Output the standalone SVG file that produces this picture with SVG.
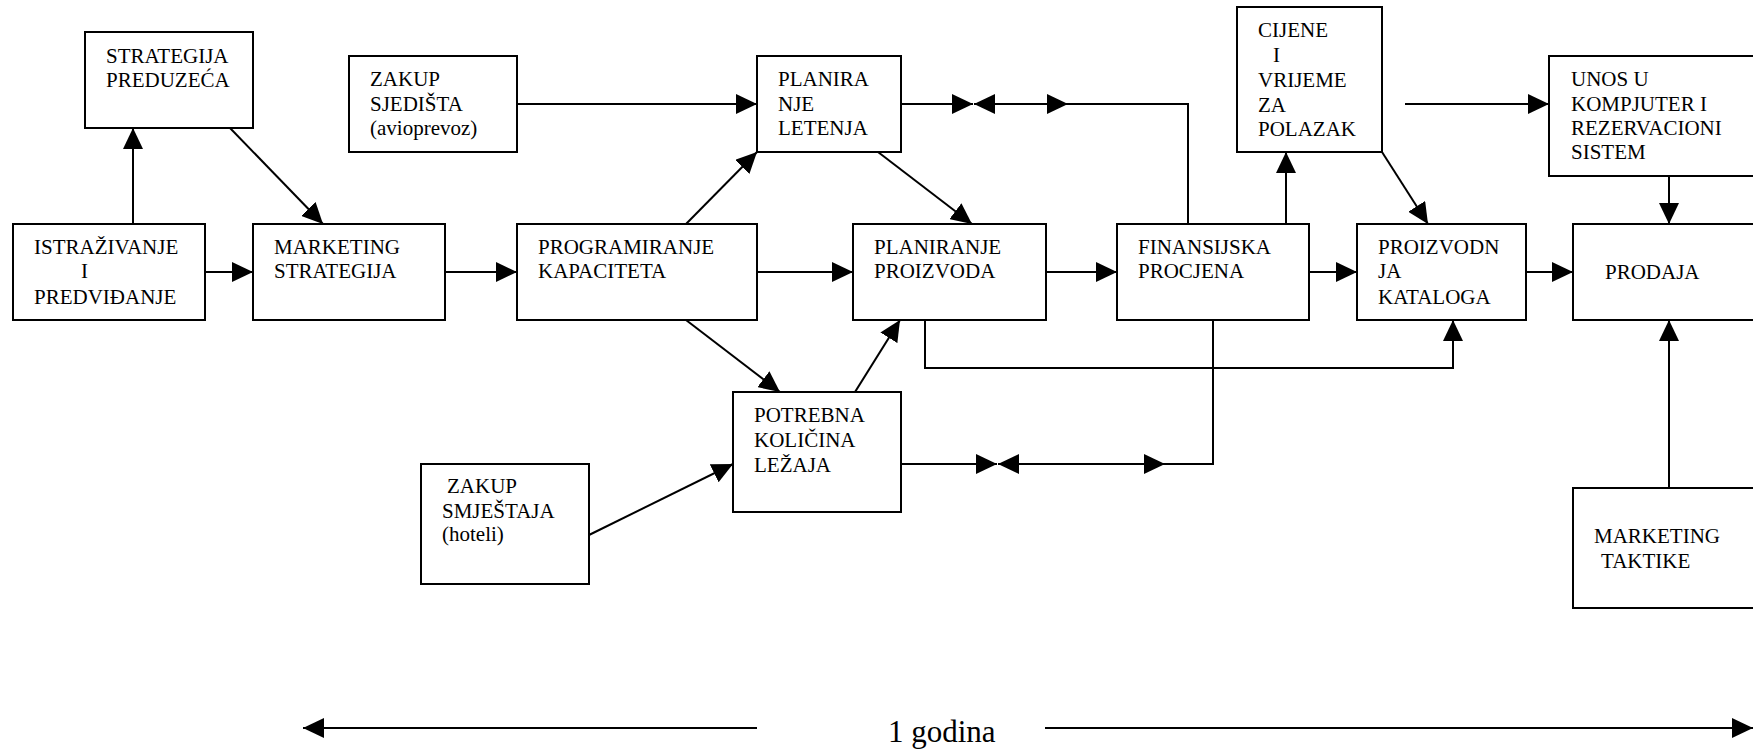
<svg xmlns="http://www.w3.org/2000/svg" width="1753" height="750" viewBox="0 0 1753 750">
  <style>
    .box { fill: #ffffff; stroke: #000000; stroke-width: 2; }
    .lbl { font-family: "Liberation Serif", "Times New Roman", serif; font-size: 21px; fill: #000000; }
    .big { font-family: "Liberation Serif", "Times New Roman", serif; font-size: 31px; fill: #000000; }
    .ln { fill: none; stroke: #000000; stroke-width: 2; }
    .arr { fill: none; stroke: #000000; stroke-width: 2; marker-end: url(#head); }
  </style>
  <defs>
    <marker id="head" markerUnits="userSpaceOnUse" markerWidth="21" markerHeight="20" viewBox="0 0 21 20" refX="21" refY="10" orient="auto">
      <path d="M0,0 L21,10 L0,20 Z" fill="#000000"/>
    </marker>
  </defs>

  <rect width="1753" height="750" fill="#ffffff"/>

  <!-- connectors -->
  <g id="connectors">
    <path class="arr" d="M133,224 V128"/>
    <path class="arr" d="M230,128 L323,224"/>
    <path class="arr" d="M205,272 H253"/>
    <path class="arr" d="M445,272 H517"/>
    <path class="arr" d="M517,104 H757"/>
    <path class="arr" d="M686,224 L757,152"/>
    <path class="arr" d="M757,272 H853"/>
    <path class="arr" d="M878,152 L972,224"/>
    <path class="arr" d="M686,320 L780,392"/>
    <path class="arr" d="M855,392 L900,320"/>
    <path class="arr" d="M589,535 L733,464"/>
    <path class="arr" d="M1046,272 H1117"/>
    <path class="arr" d="M1286,224 V152"/>
    <path class="arr" d="M1309,272 H1357"/>
    <path class="arr" d="M1382,152 L1428,224"/>
    <path class="arr" d="M1405,104 H1549"/>
    <path class="arr" d="M1669,176 V224"/>
    <path class="arr" d="M1526,272 H1573"/>
    <path class="arr" d="M925,320 V368 H1453 V320"/>
    <path class="arr" d="M1669,488 V320"/>
    <!-- flight planning / financial estimate link -->
    <path class="arr" d="M901,104 H973"/>
    <path class="arr" d="M1188,224 V104 H974"/>
    <path class="arr" d="M994,104 H1068"/>
    <!-- accommodation / financial estimate link -->
    <path class="arr" d="M901,464 H997"/>
    <path class="arr" d="M1213,320 V464 H998"/>
    <path class="arr" d="M1018,464 H1165"/>
    <!-- one-year time span -->
    <path class="arr" d="M757,728 H303"/>
    <path class="arr" d="M1045,728 H1753"/>
  </g>

  <g id="strategija-preduzeca">
    <rect class="box" x="85" y="32" width="168" height="96"/>
    <text class="lbl" x="106" y="63">STRATEGIJA</text>
    <text class="lbl" x="106" y="87">PREDUZEĆA</text>
  </g>

  <g id="zakup-sjedista">
    <rect class="box" x="349" y="56" width="168" height="96"/>
    <text class="lbl" x="370" y="86">ZAKUP</text>
    <text class="lbl" x="370" y="111">SJEDIŠTA</text>
    <text class="lbl" x="370" y="135">(avioprevoz)</text>
  </g>

  <g id="planiranje-letenja">
    <rect class="box" x="757" y="56" width="144" height="96"/>
    <text class="lbl" x="778" y="86">PLANIRA</text>
    <text class="lbl" x="778" y="111">NJE</text>
    <text class="lbl" x="778" y="135">LETENJA</text>
  </g>

  <g id="cijene">
    <rect class="box" x="1237" y="7" width="145" height="145"/>
    <text class="lbl" x="1258" y="37">CIJENE</text>
    <text class="lbl" x="1273" y="62">I</text>
    <text class="lbl" x="1258" y="87">VRIJEME</text>
    <text class="lbl" x="1258" y="112">ZA</text>
    <text class="lbl" x="1258" y="136">POLAZAK</text>
  </g>

  <g id="unos">
    <rect class="box" x="1549" y="56" width="220" height="120"/>
    <text class="lbl" x="1571" y="86">UNOS U</text>
    <text class="lbl" x="1571" y="111">KOMPJUTER I</text>
    <text class="lbl" x="1571" y="135">REZERVACIONI</text>
    <text class="lbl" x="1571" y="159">SISTEM</text>
  </g>

  <g id="istrazivanje">
    <rect class="box" x="13" y="224" width="192" height="96"/>
    <text class="lbl" x="34" y="254">ISTRAŽIVANJE</text>
    <text class="lbl" x="81" y="278">I</text>
    <text class="lbl" x="34" y="304">PREDVIĐANJE</text>
  </g>

  <g id="marketing-strategija">
    <rect class="box" x="253" y="224" width="192" height="96"/>
    <text class="lbl" x="274" y="254">MARKETING</text>
    <text class="lbl" x="274" y="278">STRATEGIJA</text>
  </g>

  <g id="programiranje">
    <rect class="box" x="517" y="224" width="240" height="96"/>
    <text class="lbl" x="538" y="254">PROGRAMIRANJE</text>
    <text class="lbl" x="538" y="278">KAPACITETA</text>
  </g>

  <g id="planiranje-proizvoda">
    <rect class="box" x="853" y="224" width="193" height="96"/>
    <text class="lbl" x="874" y="254">PLANIRANJE</text>
    <text class="lbl" x="874" y="278">PROIZVODA</text>
  </g>

  <g id="finansijska">
    <rect class="box" x="1117" y="224" width="192" height="96"/>
    <text class="lbl" x="1138" y="254">FINANSIJSKA</text>
    <text class="lbl" x="1138" y="278">PROCJENA</text>
  </g>

  <g id="proizvodnja-kataloga">
    <rect class="box" x="1357" y="224" width="169" height="96"/>
    <text class="lbl" x="1378" y="254">PROIZVODN</text>
    <text class="lbl" x="1378" y="278">JA</text>
    <text class="lbl" x="1378" y="304">KATALOGA</text>
  </g>

  <g id="prodaja">
    <rect class="box" x="1573" y="224" width="200" height="96"/>
    <text class="lbl" x="1605" y="279">PRODAJA</text>
  </g>

  <g id="potrebna">
    <rect class="box" x="733" y="392" width="168" height="120"/>
    <text class="lbl" x="754" y="422">POTREBNA</text>
    <text class="lbl" x="754" y="447">KOLIČINA</text>
    <text class="lbl" x="754" y="472">LEŽAJA</text>
  </g>

  <g id="zakup-smjestaja">
    <rect class="box" x="421" y="464" width="168" height="120"/>
    <text class="lbl" x="447" y="493">ZAKUP</text>
    <text class="lbl" x="442" y="518">SMJEŠTAJA</text>
    <text class="lbl" x="442" y="541">(hoteli)</text>
  </g>

  <g id="marketing-taktike">
    <rect class="box" x="1573" y="488" width="200" height="120"/>
    <text class="lbl" x="1594" y="543">MARKETING</text>
    <text class="lbl" x="1601" y="568">TAKTIKE</text>
  </g>

  <g id="period">
    <text class="big" x="888" y="742">1 godina</text>
  </g>
</svg>
